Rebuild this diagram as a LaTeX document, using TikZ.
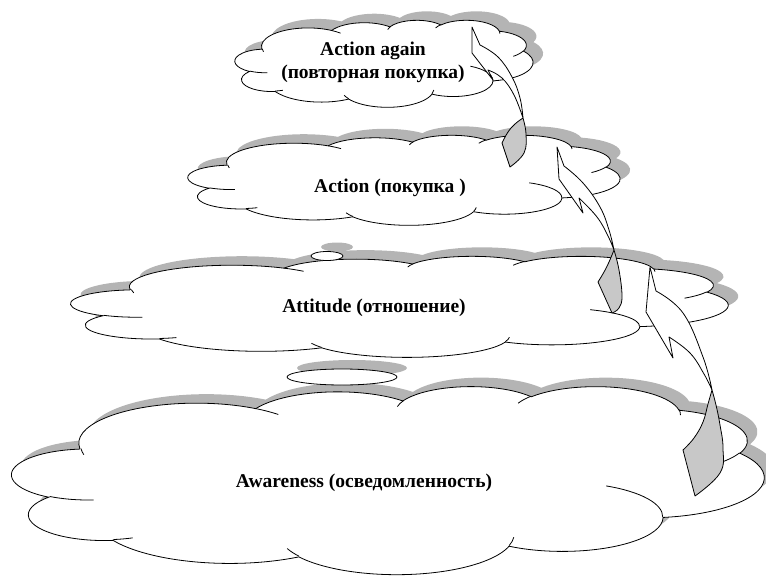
\documentclass[tikz,border=0pt]{standalone}
\usepackage{fontspec}
\setmainfont{Liberation Serif}
\usetikzlibrary{positioning,shapes.geometric,shadows}

\definecolor{shadowgray}{RGB}{180,180,180}
\definecolor{ribbongray}{RGB}{200,200,200}

% one arc of the cloud outline, angles given as seen on the ellipse
\newcommand\defarc[5]{%
  \pgfmathsetmacro\arcS{atan2((#2)*sin(#4),(#3)*cos(#4))}%
  \pgfmathsetmacro\arcE{atan2((#2)*sin((#4)+(#5)),(#3)*cos((#4)+(#5)))}%
  \pgfmathsetmacro\arcD{mod(\arcE-(\arcS)+720,360)}%
  \expandafter\xdef\csname #1\endcsname{arc[x radius=#2, y radius=#3, start angle=\arcS, delta angle=\arcD]}}

\defarc{cloudA}{6.753}{9.190}{-190.4875}{123.7805}
\defarc{cloudB}{5.333}{7.267}{-144.1024}{89.9452}
\defarc{cloudC}{4.365}{5.945}{-145.8079}{99.7230}
\defarc{cloudD}{4.857}{6.595}{-130.9861}{117.2417}
\defarc{cloudE}{5.333}{7.273}{-78.7089}{109.0269}
\defarc{cloudF}{6.775}{9.220}{-46.2673}{130.2690}
\defarc{cloudG}{5.785}{7.867}{0.6250}{114.0333}
\defarc{cloudH}{6.752}{9.215}{22.4516}{115.1726}
\defarc{cloudI}{7.720}{10.543}{66.2426}{75.7110}
\defarc{cloudJ}{4.360}{5.918}{-274.9421}{146.7356}
\defarc{cloudK}{4.345}{5.945}{-246.8285}{152.5189}

\defarc{innerA}{4.345}{5.945}{86.742}{26.4295}
\defarc{innerB}{4.360}{5.918}{73.6105}{11.4475}
\defarc{innerC}{6.752}{9.215}{137.6242}{14.0811}
\defarc{innerD}{6.752}{9.215}{6.4533}{15.9984}
\defarc{innerE}{5.785}{7.867}{-70.2924}{70.9174}
\defarc{innerF}{5.333}{7.273}{30.3180}{27.7515}
\defarc{innerG}{4.857}{6.595}{-13.7443}{14.8589}
\defarc{innerH}{4.857}{6.595}{-149.1815}{18.1954}
\defarc{innerI}{4.365}{5.945}{-163.4943}{17.6864}
\defarc{innerJ}{6.753}{9.190}{-66.7070}{12.3194}
\defarc{innerK}{6.753}{9.190}{162.0359}{11.8515}

\def\cloudpath{(3.9,14.37) \cloudA \cloudB \cloudC \cloudD \cloudE \cloudF \cloudG \cloudH \cloudI \cloudJ \cloudK -- cycle}
\def\cloudinner{(4.693,26.177) \innerA (6.928,34.899) \innerB (16.478,39.09) \innerC
  (28.827,34.751) \innerD (34.129,22.954) \innerE (41.798,15.354) \innerF
  (38.324,5.426) \innerG (29.078,3.952) \innerH (22.141,4.72) \innerI
  (14.0,5.192) \innerJ (4.127,15.789) \innerK}

% cloud in the box with top left corner (#1,#2), width #3, height #4
\newcommand\wcloud[4]{%
  \begin{scope}[shift={(#1+10,#2-9)}, y=1pt, xscale=#3/43.2, yscale=-#4/43.2]
    \fill[shadowgray] \cloudpath;
  \end{scope}
  \begin{scope}[shift={(#1,#2)}, y=1pt, xscale=#3/43.2, yscale=-#4/43.2]
    \filldraw[cloudline, fill=white] \cloudpath;
    \draw[cloudline] \cloudinner;
  \end{scope}}

\begin{document}
\begin{tikzpicture}[x=1pt, y=-1pt, font=\fontsize{19.5}{23}\selectfont\bfseries,
  cloudline/.style={draw=black, line width=0.8pt},
  cloudtext/.style={inner sep=0pt, align=center},
  bubble/.style={draw, fill=white, shape=ellipse, inner sep=0pt, line width=0.8pt,
    drop shadow={shadow xshift=10pt, shadow yshift=9pt, fill=shadowgray, opacity=1}},
  ribbonface/.style={draw, fill=white, line width=0.8pt, line join=round},
  ribbonback/.style={draw, fill=ribbongray, line width=0.8pt, line join=round}]

      \useasboundingbox (0,0) rectangle (766,581);

      \wcloud{235}{20}{298}{87}
      \wcloud{188}{135}{432}{90}
      \wcloud{71}{256}{657}{101}
      \wcloud{12}{386}{752}{188}

      \node[bubble, minimum width=32pt, minimum height=9pt] (bubbleTop) at (327,256) {};
      \node[bubble, minimum width=110pt, minimum height=16pt] (bubbleLow) at (342,377) {};

      \node[cloudtext] (again) at (373,62) {Action again\\(повторная покупка)};
      \node[cloudtext] (action) at (390,188) {Action (покупка )};
      \node[cloudtext] (attitude) at (374,308) {Attitude (отношение)};
      \node[cloudtext] (awareness) at (364,483) {Awareness (осведомленность)};

      \coordinate (tipAgain) at (472,27);
      \coordinate (tailAction) at (510,167);
      \coordinate (tipAction) at (557,147);
      \coordinate (tailAttitude) at (612,313);
      \coordinate (tipAttitude) at (650,267);
      \coordinate (tailAwareness) at (695,496);

      \draw[ribbonface] (tipAgain) -- plot[smooth, tension=0.7] coordinates {(480,45) (498,57) (512,77) (520,98) (523,118)}
        -- plot[smooth, tension=0.7] coordinates {(523,118) (514,95) (502,78) (488,70)} -- (493,80) -- (472,53) -- cycle;
      \draw[ribbonback] plot[smooth, tension=0.7] coordinates {(523,118) (526,134) (524,153) (tailAction)}
        -- plot[smooth, tension=0.7] coordinates {(502,143) (508,132) (515,124) (523,118)} -- cycle;

      \draw[ribbonface] (tipAction) -- plot[smooth, tension=0.7] coordinates {(564,166) (583,183) (600,207) (609,230) (614,250)}
        -- plot[smooth, tension=0.7] coordinates {(614,250) (608,236) (597,217) (579,198)} -- (583,213) -- (559,179) -- cycle;
      \draw[ribbonback] plot[smooth, tension=0.7] coordinates {(614,250) (619,270) (622,296) (619,308) (tailAttitude)}
        -- plot[smooth, tension=0.7] coordinates {(598,282) (604,272) (609,262) (614,250)} -- cycle;

      \draw[ribbonface] (tipAttitude) -- plot[smooth, tension=0.7] coordinates {(656,291) (683,313) (703,357) (712,390)}
        -- plot[smooth, tension=0.7] coordinates {(712,390) (704,374) (690,353) (669,337)} -- (673,358) -- (646,312) -- cycle;
      \draw[ribbonback] plot[smooth, tension=0.7] coordinates {(712,390) (716,405) (720,425) (723,448) (720,473) (tailAwareness)}
        -- plot[smooth, tension=0.7] coordinates {(683,450) (694,438) (703,422) (708,404) (712,390)} -- cycle;
\end{tikzpicture}
\end{document}
